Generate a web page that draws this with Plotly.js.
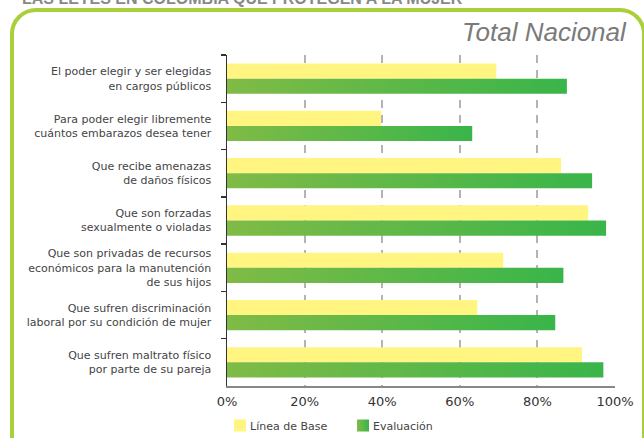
<!DOCTYPE html>
<html>
<head>
<meta charset="utf-8">
<script src="https://cdn.plot.ly/plotly-3.0.1.min.js"></script>
<style>
  html, body { margin: 0; padding: 0; background: #fff; }
  #wrap { position: relative; width: 644px; height: 438px; overflow: hidden; }
  #frame { position: absolute; left: 10px; top: 8px; width: 636px; height: 460px;
           border: 4px solid #a9d03a; border-radius: 26px; box-sizing: border-box; }
  #chart { position: absolute; left: 0; top: 0; width: 644px; height: 438px; }
</style>
</head>
<body>
<div id="wrap">
  <div id="frame"></div>
  <div id="chart"></div>
</div>
<script>
const categories = [
  "El poder elegir y ser elegidas<br>en cargos públicos",
  "Para poder elegir libremente<br>cuántos embarazos desea tener",
  "Que recibe amenazas<br>de daños físicos",
  "Que son forzadas<br>sexualmente o violadas",
  "Que son privadas de recursos<br>económicos para la manutención<br>de sus hijos",
  "Que sufren discriminación<br>laboral por su condición de mujer",
  "Que sufren maltrato físico<br>por parte de su pareja"
];
const lineaBase = [69.4, 39.7, 86.1, 93.1, 71.2, 64.5, 91.5];
const evaluacion = [87.6, 63.2, 94.1, 97.7, 86.7, 84.6, 97.0];
const tickVals = [0, 20, 40, 60, 80, 100];
const tickText = ["0%", "20%", "40%", "60%", "80%", "100%"];

const font = "DejaVu Sans, Verdana, sans-serif";

const traces = [
  { type: "bar", orientation: "h", name: "Línea de Base", y: categories, x: lineaBase,
    marker: { color: "#fff580" }, hoverinfo: "skip" },
  { type: "bar", orientation: "h", name: "Evaluación", y: categories, x: evaluacion,
    marker: { color: "#5cb848" }, hoverinfo: "skip" }
];

const layout = {
  width: 644, height: 438,
  margin: { l: 227, r: 29, t: 55, b: 52, pad: 0 },
  paper_bgcolor: "rgba(0,0,0,0)", plot_bgcolor: "rgba(0,0,0,0)",
  barmode: "group", bargap: 0.36, bargroupgap: 0,
  showlegend: true,
  legend: { orientation: "h", xref: "container", yref: "container",
            x: 210 / 644, xanchor: "left", y: 1 - 425.5 / 438, yanchor: "middle",
            font: { family: font, size: 11, color: "#444" }, traceorder: "normal",
            itemwidth: 30, entrywidth: 78, tracegroupgap: 0 },
  xaxis: { range: [0, 100], tickvals: tickVals, ticktext: tickText, automargin: false,
           showgrid: true, gridcolor: "#b3b3b3", gridwidth: 2, griddash: "8px,7px",
           zeroline: false, showline: true, linecolor: "#888", linewidth: 1.5,
           ticks: "", ticklabelstandoff: 3,
           tickfont: { family: font, size: 13, color: "#333" }, fixedrange: true },
  yaxis: { autorange: "reversed", type: "category", automargin: false,
           showline: true, linecolor: "#333", linewidth: 1.5,
           ticks: "outside", tickson: "boundaries", ticklen: 5, tickcolor: "#333", tickwidth: 1.5,
           ticklabelstandoff: 12,
           showgrid: false, tickfont: { family: font, size: 11, color: "#444" }, fixedrange: true },
  annotations: [
    { text: "Total Nacional", xref: "paper", yref: "paper", x: 1.0, xshift: 14, y: 1.0, yshift: 23,
      xanchor: "right", yanchor: "middle", showarrow: false,
      font: { family: "Liberation Sans, Arial, sans-serif", size: 26, color: "#7a7a7a", style: "italic" } },
    { text: "<b>LAS LEYES EN COLOMBIA QUE PROTEGEN A LA MUJER</b>", xref: "paper", yref: "paper",
      x: 0, xshift: -207, y: 1.0, yshift: 57, xanchor: "left", yanchor: "middle", showarrow: false,
      font: { family: "Liberation Sans, Arial, sans-serif", size: 16, color: "#888" } }
  ]
};

Plotly.newPlot("chart", traces, layout, { displayModeBar: false, staticPlot: true }).then(function (gd) {
  const svgNS = "http://www.w3.org/2000/svg";
  const svg = gd.querySelector("svg.main-svg");
  let defs = svg.querySelector("defs");
  if (!defs) { defs = document.createElementNS(svgNS, "defs"); svg.insertBefore(defs, svg.firstChild); }
  const grad = document.createElementNS(svgNS, "linearGradient");
  grad.setAttribute("id", "evalGrad");
  grad.setAttribute("x1", "0"); grad.setAttribute("y1", "0");
  grad.setAttribute("x2", "1"); grad.setAttribute("y2", "0");
  [["0", "#80bb46"], ["1", "#39b54a"]].forEach(function (s) {
    const st = document.createElementNS(svgNS, "stop");
    st.setAttribute("offset", s[0]); st.setAttribute("stop-color", s[1]);
    grad.appendChild(st);
  });
  defs.appendChild(grad);
  const barTraces = gd.querySelectorAll(".barlayer .trace.bars");
  if (barTraces.length > 1) {
    barTraces[1].querySelectorAll("path").forEach(function (p) { p.style.fill = "url(#evalGrad)"; });
  }
  const legendTraces = gd.querySelectorAll(".legend .traces");
  legendTraces.forEach(function (lt, i) {
    const pts = lt.querySelector(".legendpoints");
    if (pts) pts.setAttribute("transform", "translate(10,0)");
    if (i === 1) lt.querySelectorAll(".legendpoints path").forEach(function (p) { p.style.fill = "url(#evalGrad)"; });
  });
});
</script>
</body>
</html>
